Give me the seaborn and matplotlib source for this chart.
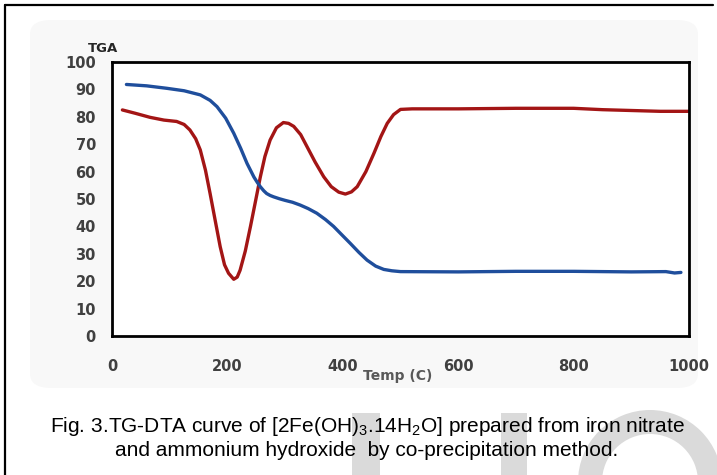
import numpy as np
import pandas as pd
import seaborn as sns
import matplotlib.pyplot as plt
from matplotlib.patches import Rectangle, Wedge, FancyBboxPatch

# TGA curve (blue)
tga_temp = [25, 60, 95, 125, 153, 170, 182, 197, 211, 223, 234, 246, 252, 257, 263, 268, 274, 280,
            290, 300, 313, 326, 340, 355, 370, 384, 398, 413, 428, 442, 457, 471, 485, 500,
            600, 700, 800, 900, 960, 975, 986]
tga_val = [91.8, 91.3, 90.4, 89.5, 88.0, 86.0, 83.7, 79.5, 74.0, 68.5, 63.0, 58.0, 56.0, 54.5, 53.0, 52.0, 51.3, 50.8,
           50.1, 49.5, 48.8, 47.8, 46.5, 44.8, 42.5, 40.0, 37.0, 33.8, 30.5, 27.7, 25.5, 24.3, 23.8, 23.5,
           23.4, 23.6, 23.6, 23.4, 23.5, 23.0, 23.2]

# DTA curve (red)
dta_temp = [18, 40, 66, 90, 112, 125, 135, 145, 153, 162, 170, 179, 187.5, 195, 202, 211, 217,
            222, 231, 240, 249, 257, 265, 274, 285, 297, 306, 315, 327, 338, 352, 367, 380,
            393, 404.5, 415, 425, 440, 454, 466, 477, 488, 500, 520, 600, 700, 800, 850,
            900, 950, 1000]
dta_val = [82.5, 81.3, 79.8, 78.8, 78.3, 77.2, 75.2, 72.0, 67.9, 60.5, 52.0, 42.0, 32.6, 26.0, 22.9, 20.7, 21.5,
           24.0, 31.0, 40.0, 49.5, 58.0, 65.5, 71.5, 76.0, 77.9, 77.6, 76.5, 73.5, 69.1, 63.5, 58.1, 54.5,
           52.5, 51.8, 52.6, 54.5, 60.0, 66.7, 72.8, 77.6, 80.8, 82.7, 82.9, 82.9, 83.1, 83.1, 82.6,
           82.3, 82.0, 82.0]

x_ticks = [0, 200, 400, 600, 800, 1000]
y_ticks = [0, 10, 20, 30, 40, 50, 60, 70, 80, 90, 100]

sns.set_style("white")
plt.rcParams['font.family'] = ['DejaVu Sans']
plt.rcParams['mathtext.fontset'] = 'custom'
plt.rcParams['mathtext.rm'] = 'Liberation Sans'
plt.rcParams['mathtext.it'] = 'Liberation Sans'
plt.rcParams['mathtext.default'] = 'regular'

W, H = 717, 475
fig = plt.figure(figsize=(W / 100, H / 100), dpi=100)

# page decorations: frame lines, chart-area background, watermark
fig.add_artist(plt.Line2D([5 / W, 5 / W], [0, 1 - 5 / H], color='black', lw=1.6))
fig.add_artist(plt.Line2D([5 / W, 713 / W], [1 - 5 / H, 1 - 5 / H], color='black', lw=1.6))
fig.add_artist(FancyBboxPatch((30 / W, 1 - 388 / H), 668 / W, 368 / H,
                              boxstyle="round,pad=0,rounding_size=0.03",
                              fc='#f8f8f8', ec='none', zorder=0))
wm = '#dadada'
fig.add_artist(Rectangle((352 / W, 0), 28 / W, (H - 413) / H, fc=wm, ec='none', zorder=0.5))
fig.add_artist(Rectangle((501 / W, 0), 26 / W, (H - 413) / H, fc=wm, ec='none', zorder=0.5))
ax_wm = fig.add_axes([0, 0, 1, 1], zorder=-1)
ax_wm.set_xlim(0, W)
ax_wm.set_ylim(H, 0)
ax_wm.axis('off')
ax_wm.add_patch(Wedge((650, 482), 72, 0, 360, width=24, fc=wm, ec='none'))

ax = fig.add_axes([112 / W, 1 - 336 / H, 577 / W, 274 / H])
ax.set_facecolor('white')

tga = pd.DataFrame({'temp': tga_temp, 'value': tga_val})
dta = pd.DataFrame({'temp': dta_temp, 'value': dta_val})
sns.lineplot(data=dta, x='temp', y='value', ax=ax, color='#a31515', lw=2.4, sort=False)
sns.lineplot(data=tga, x='temp', y='value', ax=ax, color='#1f4e9c', lw=2.4, sort=False)

ax.set_xlim(0, 1000)
ax.set_ylim(0, 100)
ax.set_xticks(x_ticks)
ax.set_yticks(y_ticks)
ax.set_xlabel('')
ax.set_ylabel('')
for s in ax.spines.values():
    s.set_color('black')
    s.set_linewidth(2.0)
ax.tick_params(axis='both', direction='out', length=3.6, width=0.8, color='#909090',
               labelsize=10.5, labelcolor='#404040')
ax.tick_params(axis='x', pad=13)
ax.tick_params(axis='y', pad=8)
for lab in ax.get_xticklabels() + ax.get_yticklabels():
    lab.set_fontweight('bold')

fig.text(103 / W, 1 - 48 / H, 'TGA', ha='center', va='center', fontsize=9.5,
         fontweight='bold', color='#262626')
fig.text(398 / W, 1 - 376 / H, 'Temp (C)', ha='center', va='center', fontsize=10,
         fontweight='bold', color='#595959')

cap = dict(ha='center', va='center', fontsize=15, color='black',
           family=['Liberation Sans', 'DejaVu Sans'], zorder=3)
fig.text(367 / W, 1 - 427 / H,
         r'Fig. 3.TG-DTA curve of [2Fe(OH)$_3$.14H$_2$O] prepared from iron nitrate', **cap)
fig.text(367 / W, 1 - 451 / H,
         'and ammonium hydroxide  by co-precipitation method.', **cap)

fig.savefig('out.png', dpi=100)
